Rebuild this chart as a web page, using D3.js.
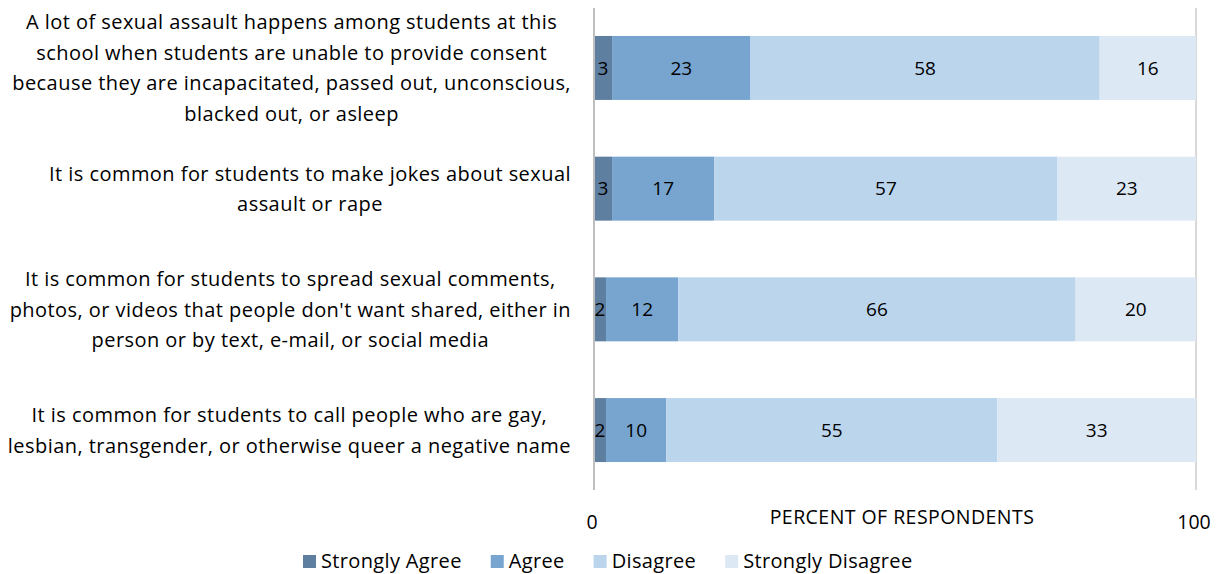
<!DOCTYPE html>
<html>
<head>
<meta charset="utf-8">
<script src="https://cdn.jsdelivr.net/npm/d3@7"></script>
<style>
  html, body { margin: 0; padding: 0; background: #fff; }
  svg { display: block; font-family: "Open Sans", Lato, sans-serif; }
</style>
</head>
<body>
<svg id="chart" width="1225" height="574"></svg>
<script>
// Survey statements (one per bar, top to bottom), pre-wrapped into lines
const statements = [
  ["A lot of sexual assault happens among students at this",
   "school when students are unable to provide consent",
   "because they are incapacitated, passed out, unconscious,",
   "blacked out, or asleep"],
  ["It is common for students to make jokes about sexual",
   "assault or rape"],
  ["It is common for students to spread sexual comments,",
   "photos, or videos that people don't want shared, either in",
   "person or by text, e-mail, or social media"],
  ["It is common for students to call people who are gay,",
   "lesbian, transgender, or otherwise queer a negative name"]
];

// Response categories and their percentages per statement
const responses = ["Strongly Agree", "Agree", "Disagree", "Strongly Disagree"];
const stronglyAgree    = [3, 3, 2, 2];
const agree            = [23, 17, 12, 10];
const disagree         = [58, 57, 66, 55];
const stronglyDisagree = [16, 23, 20, 33];
const colors = ["#5f7fa0", "#77a5cf", "#bbd5ed", "#dde8f5"];

const xTicks = [0, 100];
const axisTitle = "PERCENT OF RESPONDENTS";

const svg = d3.select("#chart");
const plotLeft = 594, plotRight = 1196;

const x = d3.scaleLinear().domain([0, 100]).range([plotLeft, plotRight]);
const y = d3.scaleBand().domain(d3.range(statements.length))
  .range([7.6, 490.4]).paddingInner(0.47).paddingOuter(0.235);

// Build stacked rows
const rows = statements.map((s, i) => ({
  i,
  "Strongly Agree": stronglyAgree[i],
  "Agree": agree[i],
  "Disagree": disagree[i],
  "Strongly Disagree": stronglyDisagree[i]
}));
const stack = d3.stack().keys(responses)(rows);

// Right boundary line
svg.append("line")
  .attr("x1", x(100)).attr("x2", x(100))
  .attr("y1", 8).attr("y2", 490)
  .attr("stroke", "#d9d9d9").attr("stroke-width", 2);

// Bars
const layers = svg.append("g").selectAll("g").data(stack).join("g")
  .attr("fill", (d, k) => colors[k]);
layers.selectAll("rect").data(d => d).join("rect")
  .attr("x", d => x(d[0]))
  .attr("y", d => y(d.data.i))
  .attr("width", d => x(d[1]) - x(d[0]))
  .attr("height", y.bandwidth());

// Value labels
layers.selectAll("text").data(d => d).join("text")
  .attr("x", d => (x(d[0]) + x(d[1])) / 2)
  .attr("y", d => y(d.data.i) + y.bandwidth() / 2)
  .attr("dy", "0.36em")
  .attr("text-anchor", "middle")
  .attr("fill", "#000")
  .attr("font-size", 19)
  .text(d => d[1] - d[0]);

// Left axis line
svg.append("line")
  .attr("x1", x(0)).attr("x2", x(0))
  .attr("y1", 8).attr("y2", 490)
  .attr("stroke", "#bfbfbf").attr("stroke-width", 2);

// Category labels: centred blocks, right-aligned to the axis
const lineH = 30.5;
statements.forEach((lines, i) => {
  const g = svg.append("g");
  const cy = y(i) + y.bandwidth() / 2;
  const texts = lines.map((t, j) => g.append("text")
    .attr("y", cy + (j - (lines.length - 1) / 2) * lineH)
    .attr("dy", "0.36em")
    .attr("font-size", 20)
    .attr("letter-spacing", 0.45)
    .attr("fill", "#000")
    .attr("text-anchor", "middle")
    .text(t));
  const maxW = d3.max(texts, t => t.node().getComputedTextLength());
  const cx = 571 - maxW / 2;
  texts.forEach(t => t.attr("x", cx));
});

// Axis ticks and title
svg.append("g").selectAll("text").data(xTicks).join("text")
  .attr("x", d => x(d) - 2)
  .attr("y", 522)
  .attr("dy", "0.36em")
  .attr("text-anchor", "middle")
  .attr("font-size", 19.5)
  .text(d => d);
svg.append("text")
  .attr("x", 902).attr("y", 517).attr("dy", "0.36em")
  .attr("text-anchor", "middle")
  .attr("font-size", 19.5)
  .attr("letter-spacing", 0.45)
  .text(axisTitle);

// Legend
const legend = svg.append("g");
let lx = 303;
responses.forEach((r, k) => {
  legend.append("rect").attr("x", lx).attr("y", 555)
    .attr("width", 13).attr("height", 13).attr("fill", colors[k]);
  const t = legend.append("text").attr("x", lx + 18).attr("y", 561)
    .attr("dy", "0.36em").attr("font-size", 20)
    .attr("letter-spacing", 0.35).text(r);
  lx += 18 + t.node().getComputedTextLength() + 29;
});
</script>
</body>
</html>
